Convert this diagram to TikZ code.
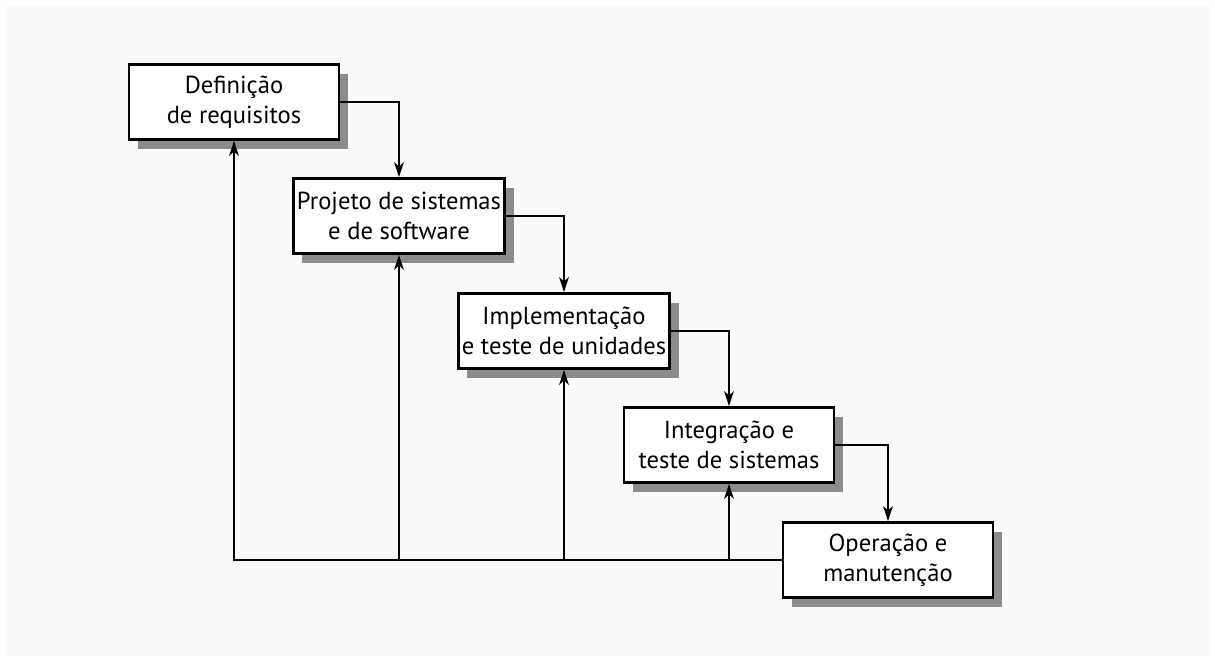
\documentclass[tikz,border=0pt]{standalone}
\usepackage{fontspec}
\setmainfont{PT Sans}
\usetikzlibrary{arrows.meta, shadows}

\begin{document}
\begin{tikzpicture}[x=0.02cm, y=-0.02cm, >={Stealth[length=8.5pt, width=5.5pt, inset=2.5pt]},
  phase/.style={draw, line width=1.6pt, fill=white, align=center,
    minimum width=4.2cm, minimum height=1.5cm, inner sep=2pt,
    font=\fontsize{14}{17}\selectfont,
    drop shadow={shadow xshift=0.18cm, shadow yshift=-0.19cm, fill=gray!90, opacity=1}},
  flow/.style={->, line width=0.8pt}]

% Background
\useasboundingbox (0,0) rectangle (1215,662);
\fill[white] (0,0) rectangle (1215,662);
\fill[black!2] (5,6) rectangle (1210,656);

% Phases
\node[phase] (req) at (234,102) {Definição\\de requisitos};
\node[phase] (proj) at (399,216) {Projeto de sistemas\\e de software};
\node[phase] (impl) at (564,331) {Implementação\\e teste de unidades};
\node[phase] (integ) at (729,445) {Integração e\\teste de sistemas};
\node[phase] (oper) at (888,560) {Operação e\\manutenção};

% Forward arrows
\draw[flow] (req.east) -| (proj.north);
\draw[flow] (proj.east) -| (impl.north);
\draw[flow] (impl.east) -| (integ.north);
\draw[flow] (integ.east) -| (oper.north);

% Feedback
\draw[flow] (oper.west) -| (req.south);
\foreach \n in {proj, impl, integ}
  \draw[flow] (\n.south |- oper.west) -- (\n.south);

\end{tikzpicture}
\end{document}
